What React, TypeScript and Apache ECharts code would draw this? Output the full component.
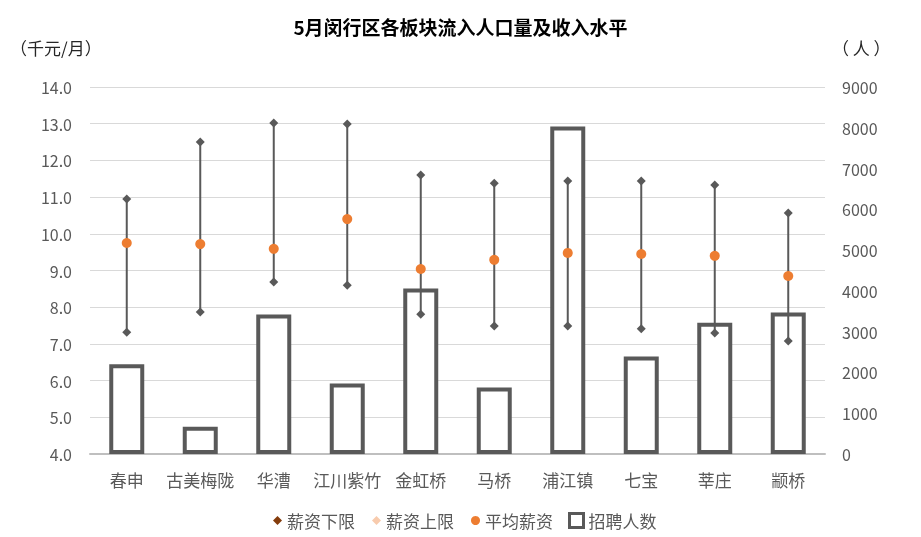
import React, { useEffect, useRef } from "react";
import * as echarts from "echarts";

const categories = ["春申", "古美梅陇", "华漕", "江川紫竹", "金虹桥", "马桥", "浦江镇", "七宝", "莘庄", "颛桥"];
const salaryLow = [7.32, 7.87, 8.69, 8.6, 7.81, 7.49, 7.49, 7.41, 7.3, 7.08];
const salaryHigh = [10.95, 12.5, 13.02, 12.99, 11.6, 11.38, 11.44, 11.44, 11.33, 10.57];
const salaryAvg = [9.75, 9.72, 9.59, 10.4, 9.04, 9.29, 9.48, 9.45, 9.4, 8.85];
const hires = [2200, 670, 3420, 1730, 4060, 1630, 8030, 2390, 3220, 3470];
const leftTicks = { min: 4, max: 14, interval: 1 };
const rightTicks = { min: 0, max: 9000, interval: 1000 };

const FONT = "'Noto Sans CJK SC', 'Microsoft YaHei', sans-serif";
const GRAY = "#595959";

export default function App() {
  const ref = useRef<HTMLDivElement>(null);
  useEffect(() => {
    if (!ref.current) return;
    const chart = echarts.init(ref.current, null, { renderer: "svg" });
    const rangeData = categories.map((c, i) => [i, salaryLow[i], salaryHigh[i]]);
    chart.setOption({
      animation: false,
      textStyle: { fontFamily: FONT },
      title: {
        text: "5月闵行区各板块流入人口量及收入水平",
        left: "center",
        top: 12,
        textStyle: { fontSize: 19, fontWeight: "bold", color: "#000", fontFamily: FONT },
      },
      graphic: [
        {
          type: "text",
          left: 10,
          top: 39,
          style: { text: "（千元/月）", fill: "#262626", font: `17px ${FONT}` },
        },
        {
          type: "text",
          left: 832,
          top: 39,
          style: { text: "（ 人 ）", fill: "#262626", font: `17px ${FONT}` },
        },
      ],
      legend: [
        {
          left: 268,
          top: 507,
          itemWidth: 9,
          itemHeight: 9,
          itemGap: 17,
          textStyle: { fontSize: 17, color: GRAY, fontFamily: FONT },
          data: [
            { name: "薪资下限", icon: "diamond", itemStyle: { color: "#843C0C", borderWidth: 0 } },
            { name: "薪资上限", icon: "diamond", itemStyle: { color: "#F8CBAD", borderWidth: 0 } },
            { name: "平均薪资", icon: "circle", itemStyle: { color: "#ED7D31", borderWidth: 0 } },
          ],
        },
        {
          left: 563,
          top: 507,
          itemWidth: 14,
          itemHeight: 14,
          textStyle: { fontSize: 17, color: GRAY, fontFamily: FONT },
          data: [
            { name: "招聘人数", icon: "rect", itemStyle: { color: "#fff", borderColor: GRAY, borderWidth: 3 } },
          ],
        },
      ],
      grid: { left: 90, right: 96, top: 87, bottom: 83 },
      xAxis: {
        type: "category",
        data: categories,
        axisTick: { show: false },
        axisLine: { lineStyle: { color: "#bfbfbf", width: 2 } },
        axisLabel: { interval: 0, fontSize: 17, color: GRAY, margin: 17, fontFamily: FONT },
      },
      yAxis: [
        {
          type: "value",
          min: leftTicks.min,
          max: leftTicks.max,
          interval: leftTicks.interval,
          axisLine: { show: false },
          axisTick: { show: false },
          splitLine: { lineStyle: { color: "#d9d9d9", width: 1 } },
          axisLabel: {
            fontSize: 16,
            color: GRAY,
            margin: 18,
            fontFamily: FONT,
            formatter: (v: number) => v.toFixed(1),
          },
        },
        {
          type: "value",
          min: rightTicks.min,
          max: rightTicks.max,
          interval: rightTicks.interval,
          axisLine: { show: false },
          axisTick: { show: false },
          splitLine: { show: false },
          axisLabel: {
            fontSize: 16,
            color: GRAY,
            margin: 17,
            fontFamily: FONT,
            formatter: (v: number) => String(v),
          },
        },
      ],
      series: [
        {
          name: "招聘人数",
          type: "bar",
          yAxisIndex: 1,
          data: hires,
          barWidth: 35,
          itemStyle: { color: "#fff", borderColor: GRAY, borderWidth: 4 },
          z: 1,
        },
        {
          name: "range",
          type: "custom",
          yAxisIndex: 0,
          data: rangeData,
          encode: { x: 0, y: [1, 2] },
          z: 2,
          renderItem: (params: any, api: any) => {
            const x = api.value(0);
            const p1 = api.coord([x, api.value(1)]);
            const p2 = api.coord([x, api.value(2)]);
            return {
              type: "line",
              shape: { x1: p1[0], y1: p1[1], x2: p2[0], y2: p2[1] },
              style: { stroke: GRAY, lineWidth: 2 },
            };
          },
        },
        {
          name: "薪资下限",
          type: "scatter",
          yAxisIndex: 0,
          data: salaryLow,
          symbol: "diamond",
          symbolSize: 9,
          itemStyle: { color: GRAY, opacity: 1 },
          z: 3,
        },
        {
          name: "薪资上限",
          type: "scatter",
          yAxisIndex: 0,
          data: salaryHigh,
          symbol: "diamond",
          symbolSize: 9,
          itemStyle: { color: GRAY, opacity: 1 },
          z: 3,
        },
        {
          name: "平均薪资",
          type: "scatter",
          yAxisIndex: 0,
          data: salaryAvg,
          symbol: "circle",
          symbolSize: 10,
          itemStyle: { color: "#ED7D31", opacity: 1 },
          z: 4,
        },
      ],
    });
    return () => chart.dispose();
  }, []);
  return <div ref={ref} style={{ position: "fixed", left: 0, top: 0, width: 921, height: 537 }} />;
}
